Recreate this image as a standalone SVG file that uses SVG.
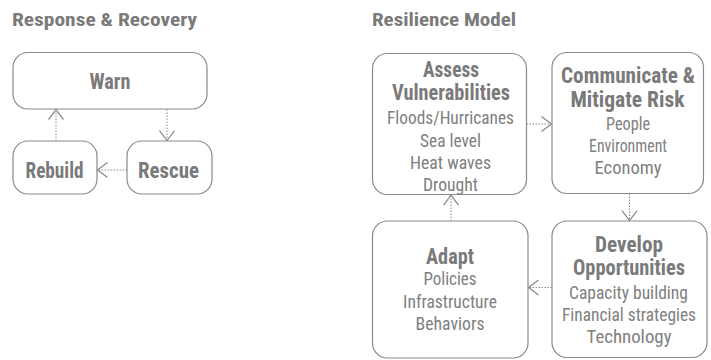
<svg xmlns="http://www.w3.org/2000/svg" width="711" height="360" viewBox="0 0 711 360">
<defs>
<style>
.box{fill:#fff;stroke:#8a8a8a;stroke-width:1.2}
.t{font-family:"Roboto Condensed","Liberation Sans Narrow","Arial Narrow",Roboto,"Liberation Sans",sans-serif;fill:#7a7a7a;text-anchor:middle}
.h{font-weight:700;font-size:21.5px}
.r{font-weight:400;font-size:19px;fill:#808080}
.title{font-family:"Roboto Condensed","Liberation Sans Narrow","Arial Narrow",Roboto,"Liberation Sans",sans-serif;fill:#7a7a7a;font-weight:700;font-size:18px}
.c{fill:none;stroke:#8a8a8a;stroke-width:1;stroke-dasharray:1.5 1.5}
</style>
<marker id="arr" markerUnits="userSpaceOnUse" markerWidth="20" markerHeight="20" viewBox="-10 -8 12 16" refX="0" refY="0" orient="auto">
<path d="M-8,-6 L0,0 L-8,6" fill="none" stroke="#8a8a8a" stroke-width="1"/>
</marker>
</defs>
<rect width="711" height="360" fill="#fff"/>
<text class="title" x="12" y="26" textLength="185" lengthAdjust="spacingAndGlyphs">Response &amp; Recovery</text>
<text class="title" x="372" y="26" textLength="144" lengthAdjust="spacingAndGlyphs">Resilience Model</text>

<g id="warn">
<rect class="box" x="13" y="52.5" width="194" height="56.5" rx="15"/>
<text class="t h" x="110" y="89" textLength="41" lengthAdjust="spacingAndGlyphs">Warn</text>
</g>
<g id="rebuild">
<rect class="box" x="13" y="141" width="84" height="53" rx="15"/>
<text class="t h" x="54.5" y="178" textLength="58" lengthAdjust="spacingAndGlyphs">Rebuild</text>
</g>
<g id="rescue">
<rect class="box" x="127" y="141" width="85" height="53" rx="15"/>
<text class="t h" x="168.5" y="178" textLength="61" lengthAdjust="spacingAndGlyphs">Rescue</text>
</g>

<g id="assess">
<rect class="box" x="372.5" y="53.5" width="154" height="141" rx="15"/>
<text class="t h" x="451" y="77" textLength="56" lengthAdjust="spacingAndGlyphs">Assess</text>
<text class="t h" x="451" y="100" textLength="118" lengthAdjust="spacingAndGlyphs">Vulnerabilities</text>
<text class="t r" x="450.5" y="124" textLength="127" lengthAdjust="spacingAndGlyphs">Floods/Hurricanes</text>
<text class="t r" x="450.5" y="146.5" textLength="61" lengthAdjust="spacingAndGlyphs">Sea level</text>
<text class="t r" x="450.5" y="168.5" textLength="81" lengthAdjust="spacingAndGlyphs">Heat waves</text>
<text class="t r" x="450.5" y="190.5" textLength="55" lengthAdjust="spacingAndGlyphs">Drought</text>
</g>
<g id="communicate">
<rect class="box" x="552" y="52.5" width="151.5" height="141" rx="15"/>
<text class="t h" x="628" y="83" textLength="134" lengthAdjust="spacingAndGlyphs">Communicate &amp;</text>
<text class="t h" x="627.5" y="106.5" textLength="114" lengthAdjust="spacingAndGlyphs">Mitigate Risk</text>
<text class="t r" x="628" y="130" textLength="44" lengthAdjust="spacingAndGlyphs">People</text>
<text class="t r" x="628" y="152" textLength="78" lengthAdjust="spacingAndGlyphs">Environment</text>
<text class="t r" x="628" y="174" textLength="67" lengthAdjust="spacingAndGlyphs">Economy</text>
</g>
<g id="adapt">
<rect class="box" x="372.5" y="221" width="155.5" height="137" rx="15"/>
<text class="t h" x="450" y="263.5" textLength="48" lengthAdjust="spacingAndGlyphs">Adapt</text>
<text class="t r" x="450" y="285" textLength="53" lengthAdjust="spacingAndGlyphs">Policies</text>
<text class="t r" x="450" y="308" textLength="94" lengthAdjust="spacingAndGlyphs">Infrastructure</text>
<text class="t r" x="450" y="330" textLength="69" lengthAdjust="spacingAndGlyphs">Behaviors</text>
</g>
<g id="develop">
<rect class="box" x="552" y="221" width="155" height="136.5" rx="15"/>
<text class="t h" x="629" y="251.5" textLength="68" lengthAdjust="spacingAndGlyphs">Develop</text>
<text class="t h" x="629" y="275" textLength="112" lengthAdjust="spacingAndGlyphs">Opportunities</text>
<text class="t r" x="628.5" y="298.5" textLength="119" lengthAdjust="spacingAndGlyphs">Capacity building</text>
<text class="t r" x="629" y="320.5" textLength="134" lengthAdjust="spacingAndGlyphs">Financial strategies</text>
<text class="t r" x="629" y="342.5" textLength="85" lengthAdjust="spacingAndGlyphs">Technology</text>
</g>

<g id="connectors">
<line class="c" x1="167" y1="109.5" x2="167" y2="140.5" marker-end="url(#arr)"/>
<line class="c" x1="127" y1="170" x2="97.5" y2="170" marker-end="url(#arr)"/>
<line class="c" x1="56" y1="141" x2="56" y2="109.5" marker-end="url(#arr)"/>
<line class="c" x1="526.5" y1="124" x2="551.5" y2="124" marker-end="url(#arr)"/>
<line class="c" x1="629.5" y1="193.5" x2="629.5" y2="220.5" marker-end="url(#arr)"/>
<line class="c" x1="552" y1="287.5" x2="528.5" y2="287.5" marker-end="url(#arr)"/>
<line class="c" x1="451" y1="221" x2="451" y2="195" marker-end="url(#arr)"/>
</g>
</svg>
